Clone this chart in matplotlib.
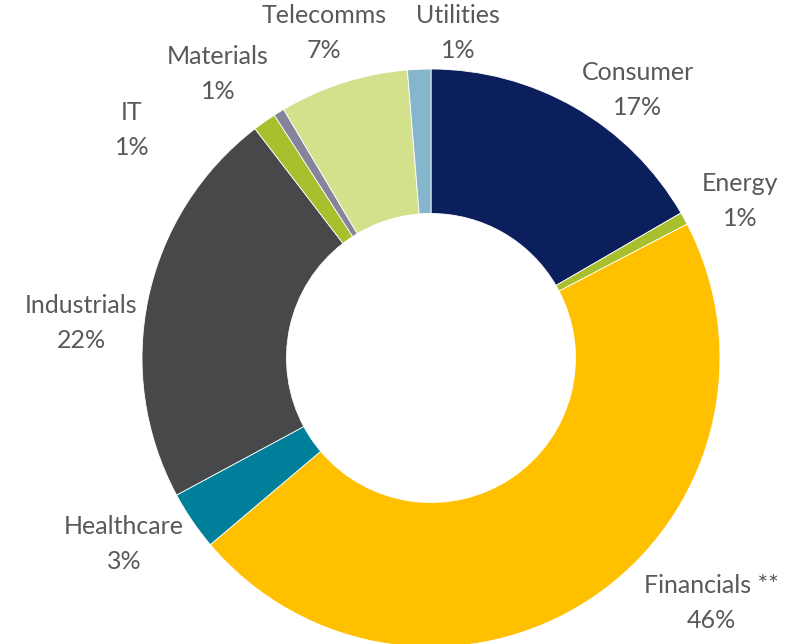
import matplotlib
matplotlib.use('Agg')
import matplotlib.pyplot as plt

# sector weights, clockwise from 12 o'clock
sectors = ['Consumer', 'Energy', 'Financials **', 'Healthcare', 'Industrials',
           'IT', 'Materials', 'Telecomms', 'Utilities']
weights = [16.6, 0.7, 46.4, 3.3, 22.4, 1.3, 0.6, 7.2, 1.3]
colors = ['#0a1f5c', '#a8c02d', '#ffc000', '#007f9a', '#47484a',
          '#a8c02d', '#84859a', '#d3e18d', '#86b6cb']

# label centres in pixels (figure is 805x644, donut centre at 431,358, radius 289)
label_px = [(638, 90), (740, 201), (711, 603), (124, 544), (81, 323),
            (132, 130), (218, 74), (324, 33), (458, 33)]

W, H = 805, 644
CX, CY, R = 431, 358, 289

fig = plt.figure(figsize=(W / 100, H / 100), dpi=100)
ax = fig.add_axes([0, 0, 1, 1])

ax.pie(weights, colors=colors, startangle=90, counterclock=False,
       radius=1.0, wedgeprops=dict(width=0.5, edgecolor='white', linewidth=0.6))

# pie() resets the limits, so set them afterwards
ax.set_aspect('auto')
ax.set_xlim(-CX / R, (W - CX) / R)
ax.set_ylim(-(H - CY) / R, CY / R)
ax.axis('off')

for name, w, (px, py) in zip(sectors, weights, label_px):
    ax.text((px - CX) / R, (CY - py) / R, '%s\n%.0f%%' % (name, w),
            ha='center', va='center', fontsize=18, color='#595959',
            family='Lato', linespacing=1.6)

fig.savefig('out.png', dpi=100)
